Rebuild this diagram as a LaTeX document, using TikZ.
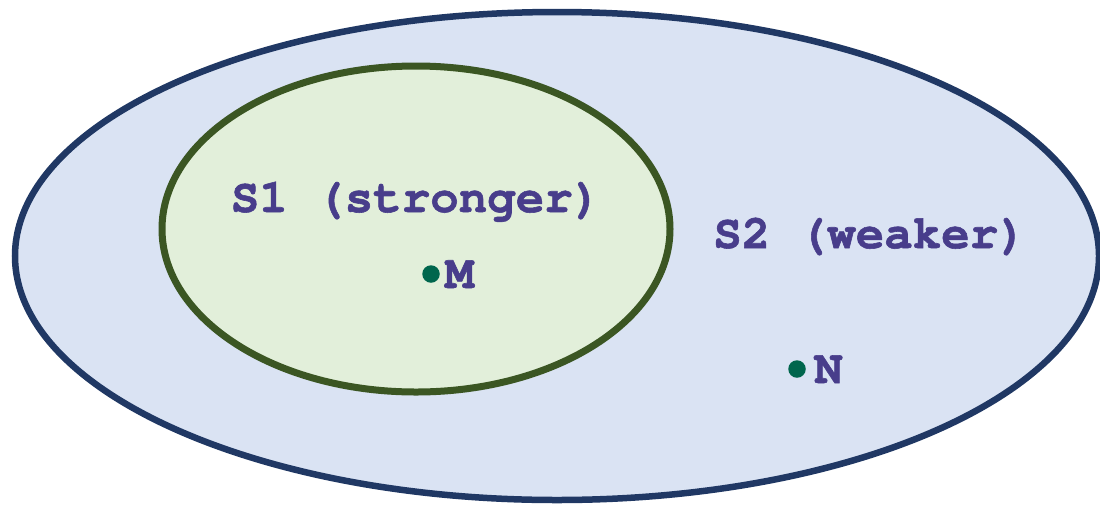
\documentclass[tikz,border=0pt]{standalone}
\usepackage{fontspec}
\newfontfamily\monofam{TeX Gyre Cursor}[BoldFeatures={FakeBold=1.2}]
\definecolor{outerfill}{HTML}{DAE3F3}
\definecolor{outerline}{HTML}{203864}
\definecolor{innerfill}{HTML}{E2EFDA}
\definecolor{innerline}{HTML}{3B5623}
\definecolor{txtcol}{HTML}{483D8B}
\definecolor{dotcol}{HTML}{00664D}
\tikzset{
  lbl/.style={inner sep=0pt, text=txtcol, font=\monofam\bfseries\fontsize{47.5}{50}\selectfont},
  pt/.style={circle, fill=dotcol, inner sep=0pt, minimum size=17.5pt}
}
\begin{document}
\begin{tikzpicture}[x=1pt,y=-1pt]
\useasboundingbox (0,0) rectangle (1100,507);
\draw[line width=6.5pt, draw=outerline, fill=outerfill] (557,256) ellipse [x radius=542, y radius=244];
\draw[line width=7pt, draw=innerline, fill=innerfill] (416,229) ellipse [x radius=254, y radius=163];
\node[lbl, anchor=base] (s1) at (416,212) {S1 (stronger)};
\node[lbl, anchor=base] (s2) at (870,248) {S2 (weaker)};
\node[pt] (m) at (431,274) {};
\node[lbl, anchor=base west] (ml) at (445,288) {M};
\node[pt] (n) at (797,369) {};
\node[lbl, anchor=base west] (nl) at (814,383) {N};
\end{tikzpicture}
\end{document}
